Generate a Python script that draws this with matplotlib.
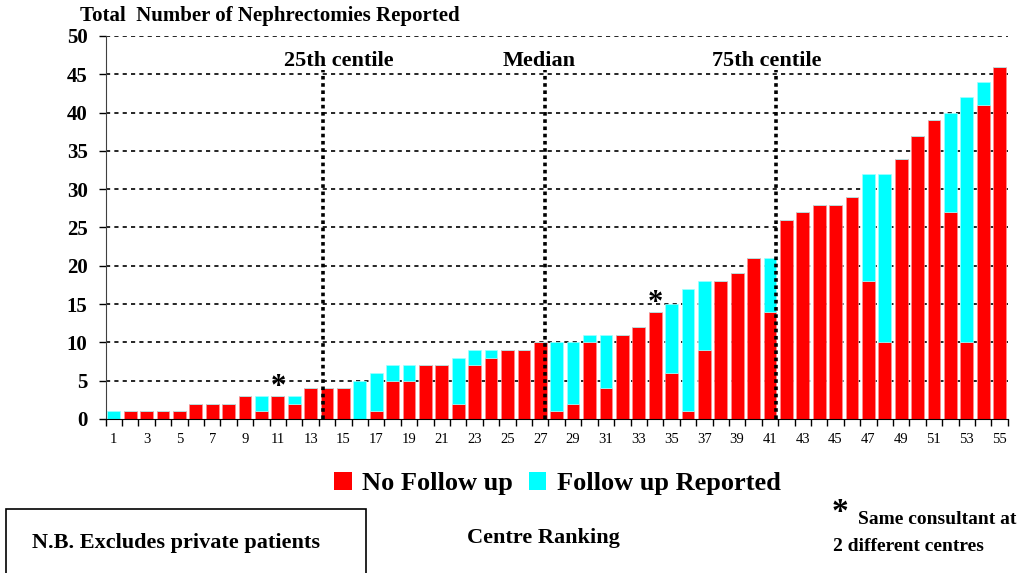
import numpy as np
import matplotlib
matplotlib.use("Agg")
import matplotlib.pyplot as plt
from matplotlib.patches import Patch, Rectangle

plt.rcParams['font.family'] = ['Liberation Serif', 'DejaVu Serif']

# Centre ranking data (sorted by total nephrectomies)
centres = list(range(1, 56))
no_follow_up = [0, 1, 1, 1, 1, 2, 2, 2, 3, 1, 3, 2, 4, 4, 4, 0, 1, 5, 5, 7,
                7, 2, 7, 8, 9, 9, 10, 1, 2, 10, 4, 11, 12, 14, 6, 1, 9, 18, 19, 21,
                14, 26, 27, 28, 28, 29, 18, 10, 34, 37, 39, 27, 10, 41, 46]
follow_up = [1, 0, 0, 0, 0, 0, 0, 0, 0, 2, 0, 1, 0, 0, 0, 5, 5, 2, 2, 0,
             0, 6, 2, 1, 0, 0, 0, 9, 8, 1, 7, 0, 0, 0, 9, 16, 9, 0, 0, 0,
             7, 0, 0, 0, 0, 0, 14, 22, 0, 0, 0, 13, 32, 3, 0]

# centile positions along the ranking, and where their labels sit
centile_pos = [13.75, 27.3, 41.4]
centile_label_pos = [14.7, 26.95, 40.8]
centile_labels = ['25th centile', 'Median', '75th centile']

# centres marked with asterisk (same consultant)
starred = [11, 34]

RED = '#ff0000'
CYAN = '#00ffff'

fig = plt.figure(figsize=(10.21, 5.73), dpi=100)
ax = fig.add_axes([0.1035, 0.2688, 0.8835, 0.6684])

x = np.array(centres)
red = np.array(no_follow_up)
cyan = np.array(follow_up)

ax.bar(x, red, width=0.78, color=RED, edgecolor='#ff9090', linewidth=0.5, zorder=2)
ax.bar(x, cyan, bottom=red, width=0.78, color=CYAN, edgecolor='#a0ffff',
       linewidth=0.5, zorder=2)

# horizontal gridlines
for yv in range(5, 55, 5):
    ax.axhline(yv, color='black', lw=1.2, linestyle=(0, (2.5, 2.5)), zorder=1)

# centile lines + labels
for pos in centile_pos:
    ax.plot([pos, pos], [0, 45.6], color='black', lw=2.6,
            linestyle=(0, (1, 1)), zorder=3)
for pos, lab in zip(centile_label_pos, centile_labels):
    ax.text(pos, 46.1, lab, ha='center', va='baseline', fontsize=16,
            fontweight='bold', zorder=4)

# asterisks
totals = red + cyan
for c in starred:
    ax.text(c, totals[c - 1] - 0.8, '*', ha='center', va='bottom',
            fontsize=22, fontweight='bold')

ax.set_xlim(0.5, 55.5)
ax.set_ylim(0, 50)
ax.set_yticks(range(0, 55, 5))
ax.set_yticklabels([str(v) for v in range(0, 55, 5)], fontsize=15,
                   fontweight='bold')
ax.tick_params(axis='y', length=5, width=1, pad=8)

ax.set_xticks(x[::2])
ax.set_xticklabels([str(v) for v in x[::2]], fontsize=10.5)
ax.tick_params(axis='x', which='major', length=0, pad=10)
ax.set_xticks(np.arange(0.5, 56, 1), minor=True)
ax.tick_params(axis='x', which='minor', length=5, width=1)

ax.spines['top'].set_visible(False)
ax.spines['right'].set_visible(False)
ax.spines['left'].set_color('#404040')

fig.text(0.078, 0.964, 'Total  Number of Nephrectomies Reported', fontsize=15,
         fontweight='bold', va='baseline')

# legend
handles = [Patch(facecolor=RED, label='No Follow up'),
           Patch(facecolor=CYAN, label='Follow up Reported')]
leg = fig.legend(handles=handles, loc='center', bbox_to_anchor=(0.546, 0.156),
                 ncol=2, frameon=False, handlelength=0.65, handleheight=0.65,
                 handletextpad=0.4, columnspacing=0.6,
                 prop={'size': 19, 'weight': 'bold', 'family': 'Liberation Serif'})

# note box
fig.patches.append(Rectangle((0.006, -0.01), 0.352, 0.122, transform=fig.transFigure,
                             fill=False, edgecolor='black', lw=1.2))
fig.text(0.172, 0.052, 'N.B. Excludes private patients', ha='center', va='center',
         fontsize=16, fontweight='bold')
fig.text(0.532, 0.061, 'Centre Ranking', ha='center', va='center', fontsize=16,
         fontweight='bold')
fig.text(0.823, 0.105, '*', ha='center', va='center', fontsize=24, fontweight='bold')
fig.text(0.840, 0.094, 'Same consultant at', ha='left', va='center', fontsize=14,
         fontweight='bold')
fig.text(0.816, 0.046, '2 different centres', ha='left', va='center', fontsize=14,
         fontweight='bold')

fig.savefig('out.png', dpi=100)
